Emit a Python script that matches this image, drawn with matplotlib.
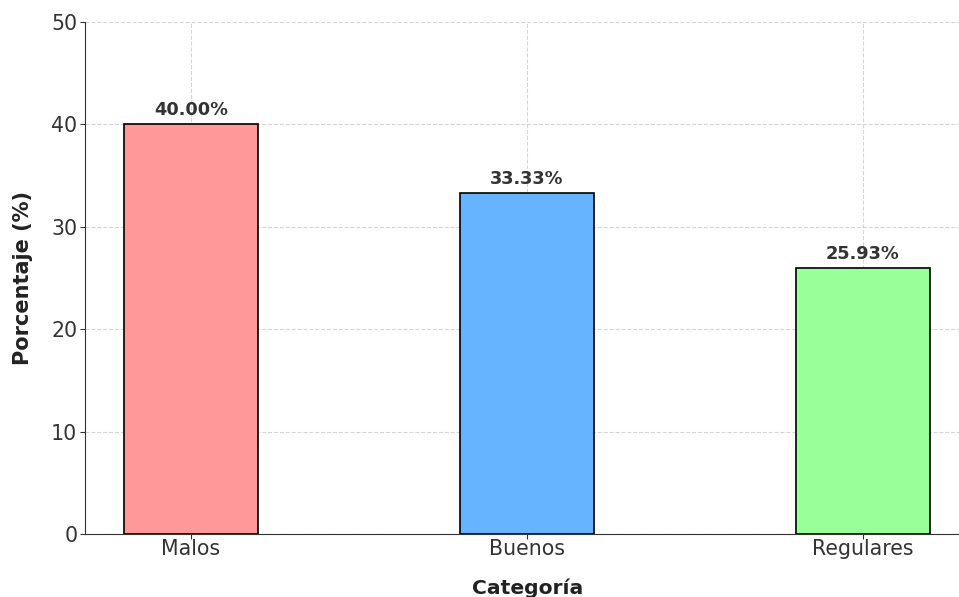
import matplotlib.pyplot as plt

categorias = ['Malos', 'Buenos', 'Regulares']
porcentajes = [40.00, 33.33, 25.93]
colores = ['#ff9999', '#66b3ff', '#99ff99']

fig = plt.figure(figsize=(9.59, 5.97), dpi=100)
ax = fig.add_axes([85 / 959, 63 / 597, 885.4 / 959, 512 / 597])

bars = ax.bar(categorias, porcentajes, color=colores, edgecolor='black', width=0.4, linewidth=1.2, zorder=3)
for bar, val in zip(bars, porcentajes):
    ax.text(bar.get_x() + bar.get_width() / 2, val + 0.5, f'{val:.2f}%',
            ha='center', va='bottom', fontsize=12.8, fontweight='bold', color='#333333')

ax.set_xlim(-0.315, 2.32)
ax.set_ylim(0, 50)
ax.set_xlabel('Categoría', fontsize=14.6, fontweight='bold', color='#222222', labelpad=14)
ax.set_ylabel('Porcentaje (%)', fontsize=15, fontweight='bold', color='#222222', labelpad=13)
ax.tick_params(labelsize=14.8, colors='#333333', pad=2)
ax.tick_params(axis='x', pad=0)
ax.grid(True, linestyle='--', color='#cccccc', alpha=0.8, zorder=0)
ax.spines['top'].set_visible(False)
ax.spines['right'].set_visible(False)
ax.spines['left'].set_color('#333333')
ax.spines['bottom'].set_color('#333333')

plt.savefig('out.png', dpi=100)
